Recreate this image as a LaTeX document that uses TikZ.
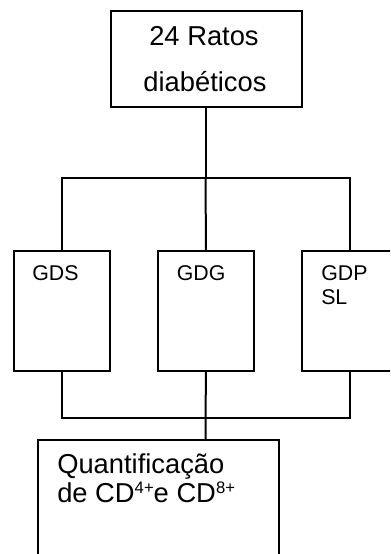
\documentclass[tikz,border=0pt]{standalone}
\usepackage{fontspec}
\setmainfont{Liberation Sans}
\begin{document}
\begin{tikzpicture}[x=0.75pt,y=-0.75pt,
  box/.style={draw=black,line width=1.5pt,rectangle,inner sep=0pt,anchor=north west},
  link/.style={draw=black,line width=1.5pt},
  bigtxt/.style={font=\fontsize{20.5}{24}\selectfont,inner sep=0pt},
  smalltxt/.style={font=\fontsize{16}{19}\selectfont,inner sep=0pt,anchor=base west}]
\useasboundingbox (0,0) rectangle (390,554);
\begin{scope}
\clip (0,0) rectangle (390,554);
% boxes
\node[box,minimum width=191*0.75pt,minimum height=96*0.75pt] (top) at (110,10) {};
\node[box,minimum width=96*0.75pt,minimum height=120*0.75pt] (gds) at (13,250) {};
\node[box,minimum width=96*0.75pt,minimum height=120*0.75pt] (gdg) at (157,250) {};
\node[box,minimum width=96*0.75pt,minimum height=120*0.75pt] (gdp) at (301,250) {};
\node[box,minimum width=241*0.75pt,minimum height=140*0.75pt] (quant) at (37,439) {};
% junction points
\coordinate (splitT) at (205.5,178);
\coordinate (joinB) at (205.5,418);
% upper tree
\draw[link] (splitT |- top.south) -- (splitT);
\draw[link] (gds.north) |- (splitT) -| (gdp.north);
\draw[link] (splitT) -- (gdg.north);
% lower tree
\draw[link] (gds.south) |- (joinB) -| (gdp.south);
\draw[link] (gdg.south) -- (joinB) -- (joinB |- quant.north);
\end{scope}
% texts
\node[bigtxt,anchor=base] (t1) at (204,45) {24 Ratos};
\node[bigtxt,anchor=base] (t2) at (205,91.5) {diabéticos};
\node[smalltxt] (s1) at (32,280) {GDS};
\node[smalltxt] (s2) at (176.5,280) {GDG};
\node[smalltxt] (s3) at (321,280) {GDP};
\node[smalltxt] (s4) at (321,304) {SL};
\node[bigtxt,anchor=base west] (q1) at (57,473) {Quantificação};
\node[bigtxt,anchor=base west] (q2) at (57,502) {de CD\raisebox{6.5pt}{\fontsize{12.5}{14}\selectfont 4+}e CD\raisebox{6.5pt}{\fontsize{12.5}{14}\selectfont 8+}};
\end{tikzpicture}
\end{document}
